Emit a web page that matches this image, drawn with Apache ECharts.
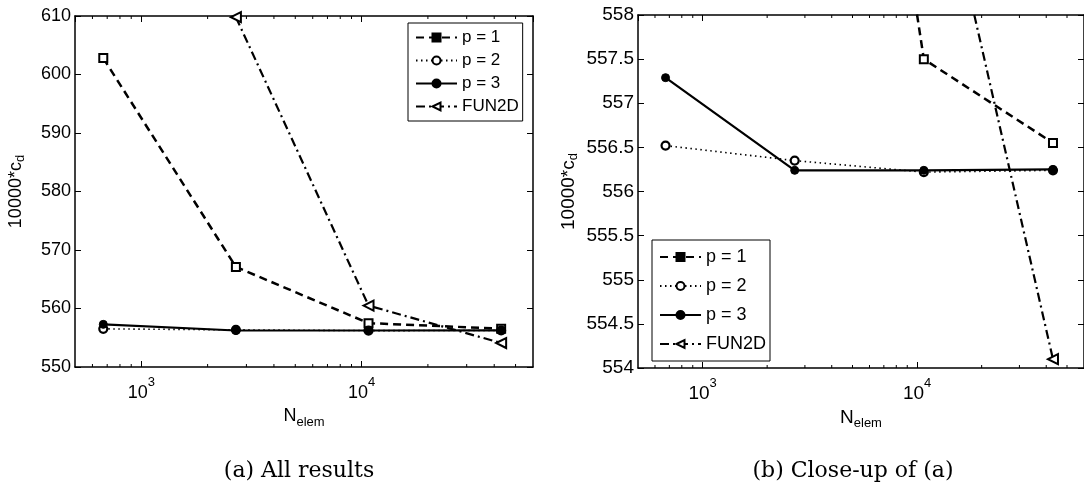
<!DOCTYPE html>
<html>
<head>
<meta charset="utf-8">
<script src="https://cdn.jsdelivr.net/npm/echarts@6/dist/echarts.min.js"></script>
<style>
html,body{margin:0;padding:0;background:#fff;}
#chart{width:1084px;height:496px;}
</style>
</head>
<body>
<div id="chart"></div>
<script>
// ---- data ----
const nElem = [672, 2688, 10752, 43008];
const p1 = [602.8, 567.1, 557.5, 556.55];
const p2 = [556.52, 556.35, 556.22, 556.24];
const p3 = [557.29, 556.24, 556.24, 556.25];
const fun2d = [null, 609.8, 560.5, 554.1];
const seriesNames = ['p = 1', 'p = 2', 'p = 3', 'FUN2D'];
const minorTicks = [600, 700, 800, 900, 2000, 3000, 4000, 5000, 6000, 7000, 8000, 9000, 20000, 30000, 40000, 50000];
const xRange = [500, 60000];
const yRangeA = [550, 610];
const yRangeB = [554, 558];
const captions = ['(a) All results', '(b) Close-up of (a)'];

const FONT = 'Liberation Sans';
const chart = echarts.init(document.getElementById('chart'), null, {renderer: 'canvas'});

function pairs(vals) { return nElem.map((n, i) => [n, vals[i] == null ? null : vals[i]]); }

function xLabelFmt(v) {
  const e = Math.round(Math.log10(v));
  if (Math.abs(v / Math.pow(10, e) - 1) < 1e-6 && (e === 3 || e === 4)) return '{b|10}{e|' + e + '}';
  return '';
}

const grids = [
  {left: 75, top: 16, width: 458, height: 351},
  {left: 638, top: 15, width: 457, height: 353}
];
const fontSz = [18, 19];

const xAxes = [], yAxes = [];
[0, 1].forEach(g => {
  const fs = fontSz[g];
  xAxes.push({
    type: 'log', logBase: 10, gridIndex: g, min: xRange[0], max: xRange[1], position: 'bottom',
    axisLine: {lineStyle: {color: '#000', width: 1.5}},
    axisTick: {inside: true, length: 6, lineStyle: {color: '#000', width: 1}},
    axisLabel: {formatter: xLabelFmt, margin: 9, showMinLabel: false, showMaxLabel: false,
      rich: {
        b: {fontSize: fs, fontFamily: FONT, color: '#000', lineHeight: 26, verticalAlign: 'bottom'},
        e: {fontSize: 13, fontFamily: FONT, color: '#000', lineHeight: 14, verticalAlign: 'top'}
      }},
    splitLine: {show: false}, minorTick: {show: false}, minorSplitLine: {show: false},
    name: '{n|N}{s|elem}', nameLocation: 'middle', nameGap: 38,
    nameTextStyle: {rich: {
      n: {fontSize: fs, fontFamily: FONT, color: '#000', lineHeight: 22, verticalAlign: 'top'},
      s: {fontSize: 13, fontFamily: FONT, color: '#000', lineHeight: 14, verticalAlign: 'bottom'}
    }}
  });
  xAxes.push({
    type: 'log', logBase: 10, gridIndex: g, min: xRange[0], max: xRange[1], position: 'top',
    axisLine: {lineStyle: {color: '#000', width: 1.5}},
    axisTick: {inside: true, length: 6, lineStyle: {color: '#000', width: 1}},
    axisLabel: {show: false}, splitLine: {show: false}
  });
  const yr = g === 0 ? yRangeA : yRangeB;
  const iv = g === 0 ? 10 : 0.5;
  yAxes.push({
    type: 'value', gridIndex: g, min: yr[0], max: yr[1], interval: iv, position: 'left',
    axisLine: {show: true, lineStyle: {color: '#000', width: 1.5}},
    axisTick: {show: true, inside: true, length: 6, lineStyle: {color: '#000', width: 1}},
    axisLabel: {fontSize: fs, fontFamily: FONT, color: '#000', margin: 4},
    splitLine: {show: false},
    name: '10000*c{s|d}', nameLocation: 'middle', nameRotate: 90, nameGap: g === 0 ? 50 : 60,
    nameTextStyle: {fontSize: fs, fontFamily: FONT, color: '#000', rich: {
      s: {fontSize: 13, fontFamily: FONT, color: '#000', padding: [0, 0, -9, 0]}
    }}
  });
  yAxes.push({
    type: 'value', gridIndex: g, min: yr[0], max: yr[1], interval: iv, position: 'right',
    axisLine: {show: true, lineStyle: {color: '#000', width: 1.5}},
    axisTick: {show: true, inside: true, length: 6, lineStyle: {color: '#000', width: 1}},
    axisLabel: {show: false}, splitLine: {show: false}
  });
});

const styles = [
  {lineType: [8, 5], width: 2.5, symbol: 'rect', size: 8, fill: '#fff', bw: 2},
  {lineType: [1.5, 3.5], width: 1.6, symbol: 'circle', size: 8, fill: '#fff', bw: 2.2},
  {lineType: 'solid', width: 2.2, symbol: 'circle', size: 8, fill: '#000', bw: 1},
  {lineType: [9, 4, 2, 4], width: 2.2, symbol: 'path://M0,5L9,0L9,10Z', size: 10, fill: '#fff', bw: 2}
];
const dataSets = [p1, p2, p3, fun2d];

const series = [];
[0, 1].forEach(g => {
  dataSets.forEach((d, i) => {
    const s = styles[i];
    series.push({
      name: seriesNames[i], type: 'line', xAxisIndex: g * 2, yAxisIndex: g * 2,
      data: pairs(d), connectNulls: false, clip: true,
      symbol: s.symbol, symbolSize: s.size, showAllSymbol: true,
      lineStyle: {color: '#000', width: s.width, type: s.lineType},
      itemStyle: {color: s.fill, borderColor: '#000', borderWidth: s.bw},
      emphasis: {disabled: true}, animation: false, z: 3 + (i === 2 ? 1 : 0)
    });
  });
  series.push({
    type: 'custom', xAxisIndex: g * 2, yAxisIndex: g * 2, silent: true, animation: false, clip: false,
    data: minorTicks.map(v => [v]),
    encode: {x: 0},
    renderItem: function (params, api) {
      const cs = params.coordSys;
      const x = api.coord([api.value(0), g === 0 ? yRangeA[0] : yRangeB[0]])[0];
      const yb = cs.y + cs.height, yt = cs.y;
      return {type: 'group', children: [
        {type: 'line', shape: {x1: x, y1: yb, x2: x, y2: yb - 3}, style: {stroke: '#000', lineWidth: 1}},
        {type: 'line', shape: {x1: x, y1: yt, x2: x, y2: yt + 3}, style: {stroke: '#000', lineWidth: 1}}
      ]};
    }
  });
});

const legendData = seriesNames.map((n, i) => (i === 0 ? {name: n, itemStyle: {color: '#000'}} : {name: n}));
function legendCfg(opts) {
  return Object.assign({
    orient: 'vertical', data: legendData, itemWidth: 41, itemHeight: 10,
    borderColor: '#000', borderWidth: 1, backgroundColor: '#fff', selectedMode: false
  }, opts);
}

chart.setOption({
  animation: false,
  backgroundColor: '#fff',
  grid: grids,
  xAxis: xAxes,
  yAxis: yAxes,
  legend: [
    legendCfg({left: 408, top: 23, itemGap: 6, padding: [6, 4, 6, 7],
      textStyle: {fontSize: 17, lineHeight: 17, fontFamily: FONT, color: '#000'}}),
    legendCfg({left: 652, top: 240, itemGap: 11, padding: [8, 4, 8, 7],
      textStyle: {fontSize: 18, lineHeight: 18, fontFamily: FONT, color: '#000'}})
  ],
  title: [
    {text: captions[0], left: 294, top: 455, textAlign: 'center',
     textStyle: {fontFamily: 'DejaVu Serif', fontSize: 22, fontWeight: 'normal', color: '#000'}},
    {text: captions[1], left: 848, top: 455, textAlign: 'center',
     textStyle: {fontFamily: 'DejaVu Serif', fontSize: 22, fontWeight: 'normal', color: '#000'}}
  ],
  series: series
});
</script>
</body>
</html>
